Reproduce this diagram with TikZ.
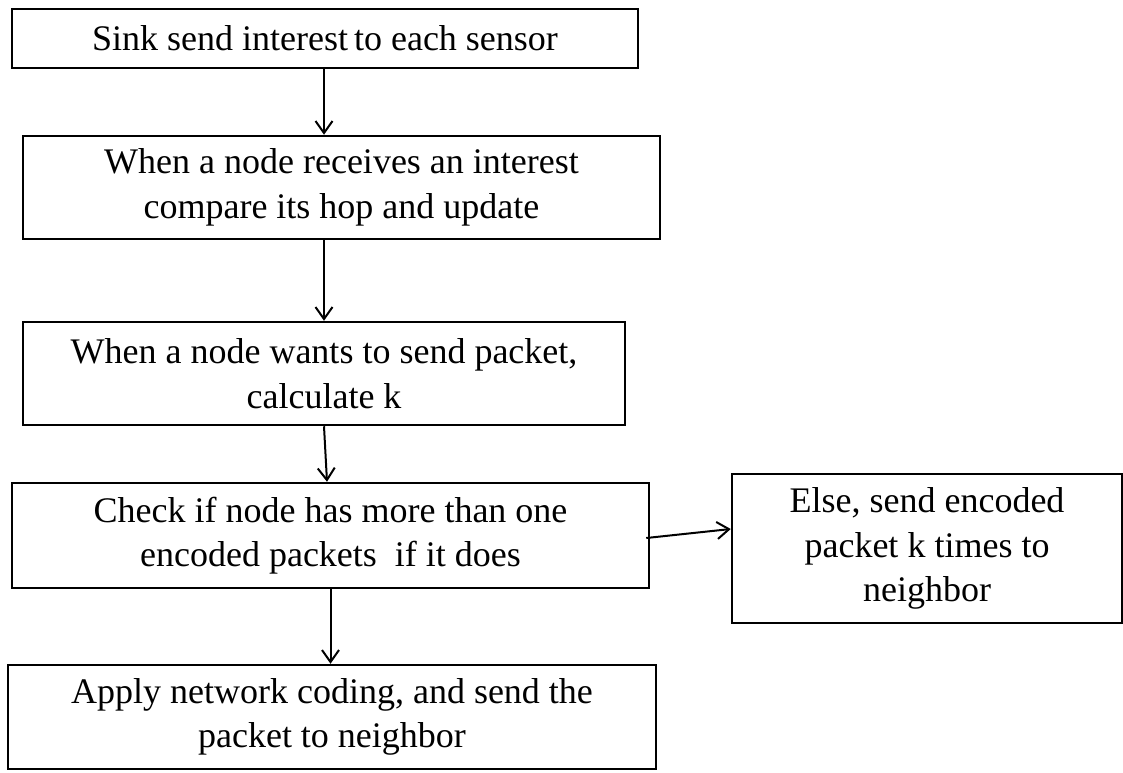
\documentclass[tikz,border=0pt]{standalone}
\usepackage{fontspec}
\setmainfont{Liberation Serif}
\usetikzlibrary{arrows.meta}
\begin{document}
\begin{tikzpicture}[x=1pt,y=-1pt,
  stepbox/.style={draw,line width=2.5pt,inner sep=0pt,align=center,
    font=\fontsize{36}{44.5}\selectfont},
  flow/.style={line width=2pt,-{Straight Barb[length=12pt,width=17pt,line width=2pt]}}]
\useasboundingbox (0,0) rectangle (1123,772);

% process steps
\node[stepbox,minimum width=626pt,minimum height=59pt] (b1) at (325,38.5)
  {Sink send interest\hspace{-3pt} to each sensor};
\node[stepbox,minimum width=637pt,minimum height=103pt] (b2) at (341.5,187.5)
  {When a node receives an interest\\compare its hop and update};
\node[stepbox,minimum width=602pt,minimum height=103pt] (b3) at (324,373.5)
  {When a node wants to send packet,\\calculate k};
\node[stepbox,minimum width=637pt,minimum height=105pt] (b4) at (330.5,535.5)
  {Check if node has more than one\\encoded packets\ \ if it does};
\node[stepbox,minimum width=390pt,minimum height=149pt] (b5) at (927,548.5)
  {Else, send encoded\\packet k times to\\neighbor};
\node[stepbox,minimum width=648pt,minimum height=104pt] (b6) at (332,717)
  {Apply network coding, and send the\\packet to neighbor};

% connectors
\draw[flow] ([xshift=-1pt]b1.south) -- ([xshift=-1pt]b1.south |- b2.north);
\draw[flow] (b3.north |- b2.south) -- (b3.north);
\draw[flow] (b3.south) -- ([xshift=-3.5pt]b4.north);
\draw[flow] (b4.south) -- (b4.south |- b6.north);
\draw[flow] ([xshift=-4pt,yshift=-2.5pt]b4.east) -- ([yshift=19.5pt]b5.west);
\end{tikzpicture}
\end{document}
